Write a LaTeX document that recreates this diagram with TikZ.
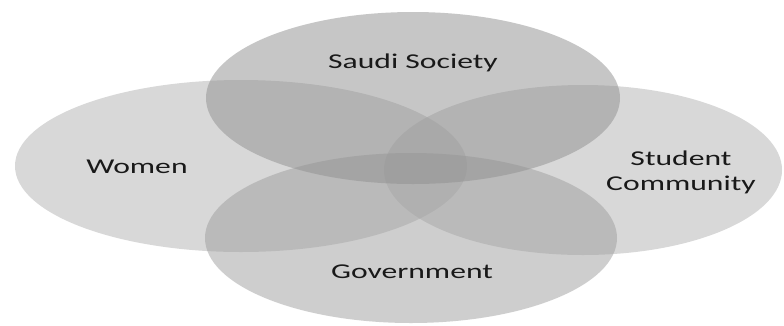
\documentclass[tikz,border=0pt]{standalone}
\usepackage{fontspec}
\setmainfont{Carlito}[FakeStretch=1.5]
\usepackage{tikz}

\definecolor{vennlight}{gray}{0.70}
\definecolor{venndark}{gray}{0.56}
\definecolor{vennmid}{gray}{0.62}

\tikzset{
  venn/.style={fill=vennlight, fill opacity=0.5, draw=none},
  vennlabel/.style={text=black!90, font=\fontsize{15}{17.8}\selectfont, align=center}
}

\begin{document}
\begin{tikzpicture}[x=0.025cm, y=-0.025cm]

	\useasboundingbox [fill=white] (0, 0) rectangle (784, 325);

	\fill [venn] (241, 166) ellipse [x radius=226, y radius=86]; 
	\fill [venn] (583, 170) ellipse [x radius=199, y radius=85]; 
	\fill [venn, fill=vennmid] (411, 238) ellipse [x radius=206, y radius=85]; 
	\fill [venn, fill=venndark] (413, 98) ellipse [x radius=207, y radius=86]; 

	\node [vennlabel] (society) at (413, 63) {Saudi Society};
	\node [vennlabel] (women) at (137, 167) {Women};
	\node [vennlabel] (students) at (681, 172) {Student\\Community};
	\node [vennlabel] (government) at (412, 272) {Government};

\end{tikzpicture}
\end{document}
